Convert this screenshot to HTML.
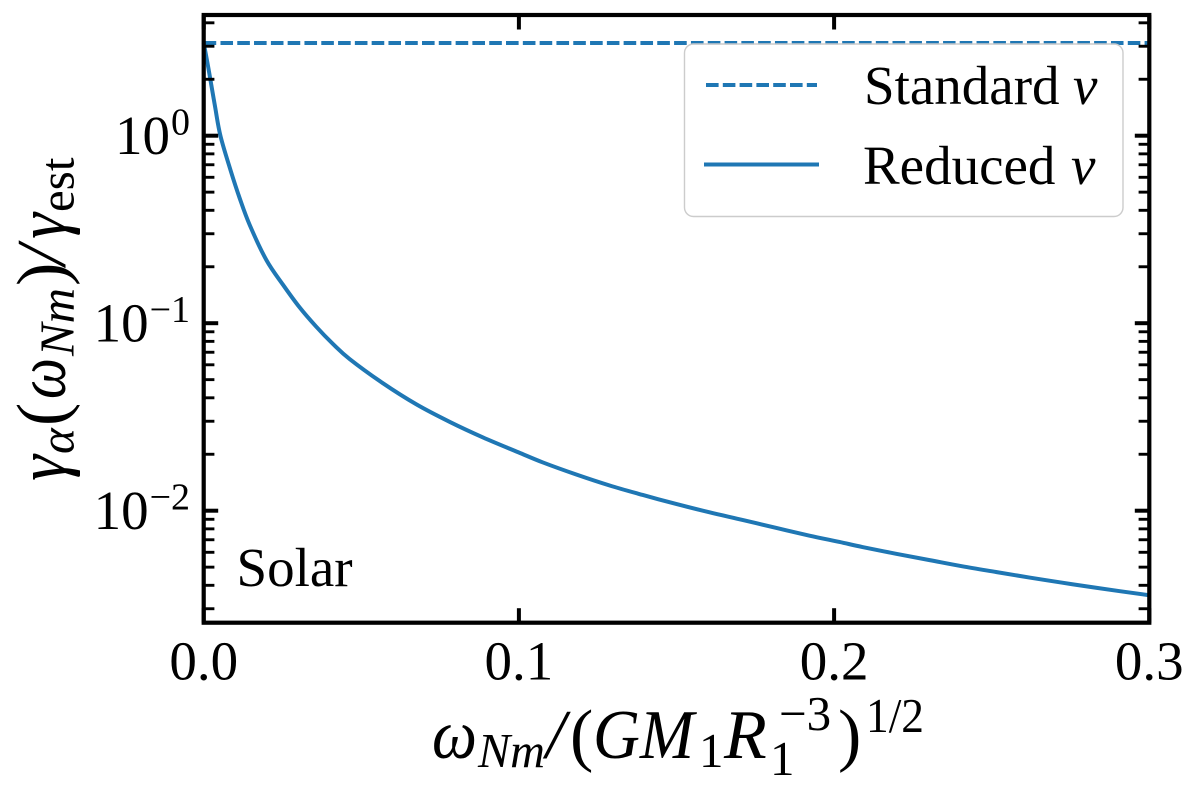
<!DOCTYPE html>
<html lang="en">
<head>
<meta charset="utf-8">
<title>Damping rate ratio chart</title>
<style>
html,body{margin:0;padding:0;background:#fff;}
svg{display:block;}
text{font-family:"Liberation Serif","DejaVu Serif",serif;fill:#000;}
.it{font-style:italic;}
</style>
</head>
<body>
<svg id="chart" xmlns="http://www.w3.org/2000/svg" width="1200" height="793" viewBox="0 0 1200 793">
  <rect width="1200" height="793" fill="#fff"/>
  <g id="series"></g>
  <g id="ticks"></g>
  <rect x="203.7" y="15" width="945.6" height="607.7" fill="none" stroke="#000" stroke-width="4.2"/>
  <g id="ticklabels"></g>

  <text x="236.5" y="586" font-size="55">Solar</text>

  <g>
    <rect x="684.5" y="44" width="438.5" height="172.5" rx="9" ry="9" fill="#fff" fill-opacity="0.8" stroke="#ccc" stroke-width="1.4"/>
    <line x1="706" x2="817" y1="85" y2="85" stroke="#1f77b4" stroke-width="4" stroke-dasharray="12.6 4.2"/>
    <text x="864" y="104" font-size="55">Standard<tspan class="it" x="1073">ν</tspan></text>
    <line x1="704" x2="819" y1="164.5" y2="164.5" stroke="#1f77b4" stroke-width="4"/>
    <text x="863" y="184" font-size="55">Reduced<tspan class="it" x="1071">ν</tspan></text>
  </g>

  <g>
    <text class="it" x="432" y="758" font-size="70" textLength="45" lengthAdjust="spacingAndGlyphs">ω</text>
    <text class="it" x="478" y="767" font-size="49" textLength="67" lengthAdjust="spacingAndGlyphs">Nm</text>
    <text class="it" x="546" y="758" font-size="70">/</text>
    <text x="570" y="758" font-size="70">(</text>
    <text class="it" x="593" y="758" font-size="70" textLength="101" lengthAdjust="spacingAndGlyphs">GM</text>
    <text x="699" y="767" font-size="49">1</text>
    <text class="it" x="724" y="758" font-size="70">R</text>
    <text x="770" y="775" font-size="49">1</text>
    <text x="779" y="730" font-size="49">−3</text>
    <text x="838" y="758" font-size="70">)</text>
    <text x="866" y="732" font-size="49" textLength="58" lengthAdjust="spacingAndGlyphs">1/2</text>
  </g>

  <g>
    <text class="it" transform="translate(65,481) rotate(-90)" font-size="70" textLength="26" lengthAdjust="spacingAndGlyphs">γ</text>
    <text class="it" transform="translate(73.5,454) rotate(-90)" font-size="49">α</text>
    <text transform="translate(65,426) rotate(-90)" font-size="70">(</text>
    <text class="it" transform="translate(65,399) rotate(-90)" font-size="70" textLength="41" lengthAdjust="spacingAndGlyphs">ω</text>
    <text class="it" transform="translate(73.5,356) rotate(-90)" font-size="49" textLength="68" lengthAdjust="spacingAndGlyphs">Nm</text>
    <text transform="translate(65,286) rotate(-90)" font-size="70">)</text>
    <text class="it" transform="translate(65,265) rotate(-90)" font-size="70">/</text>
    <text class="it" transform="translate(65,239) rotate(-90)" font-size="70" textLength="26" lengthAdjust="spacingAndGlyphs">γ</text>
    <text transform="translate(73.5,212) rotate(-90)" font-size="49">est</text>
  </g>
</svg>
<script>
const xTicks = [0.0, 0.1, 0.2, 0.3];
const xTickLabels = ["0.0", "0.1", "0.2", "0.3"];
const yDecades = [0, -1, -2];
const yTickExponents = ["0", "−1", "−2"];
const yMinorDecades = [0, -1, -2, -3];
const yMinorMultiples = [2, 3, 4, 5, 6, 7, 8, 9];
const standardX = [0.0, 0.3];
const standardY = [3.12, 3.12];
const reducedX = [0, 0.0012, 0.0021, 0.0036, 0.0053, 0.0085, 0.0114, 0.0146, 0.0199, 0.0252, 0.0304, 0.0357, 0.041, 0.0463, 0.0569, 0.0675, 0.078, 0.0886, 0.0998, 0.1076, 0.1182, 0.1288, 0.1393, 0.1499, 0.1605, 0.1711, 0.1817, 0.1922, 0.2017, 0.209, 0.2197, 0.2303, 0.2407, 0.2514, 0.262, 0.2724, 0.2831, 0.3];
const reducedY = [3.12, 2.44, 2.0, 1.43, 1.0, 0.656, 0.465, 0.334, 0.217, 0.16, 0.1216, 0.0958, 0.0775, 0.0644, 0.0478, 0.0369, 0.0298, 0.0246, 0.0205, 0.01809, 0.0156, 0.01363, 0.01213, 0.01086, 0.0098, 0.00892, 0.00809, 0.00736, 0.00681, 0.0064, 0.00589, 0.00545, 0.00505, 0.00471, 0.0044, 0.00413, 0.00388, 0.00354];

const NS = 'http://www.w3.org/2000/svg';
const plotLeft = 203.7, plotRight = 1149.3, plotTop = 15, plotBottom = 622.7;
const xMin = 0, xMax = 0.3;
const yZeroPx = 135.7, decadePx = 187.5;
function xScale(v) { return plotLeft + (v - xMin) / (xMax - xMin) * (plotRight - plotLeft); }
function yScale(v) { return yZeroPx - Math.log10(v) * decadePx; }
function make(tag, attrs, parent) {
  const el = document.createElementNS(NS, tag);
  for (const k in attrs) el.setAttribute(k, attrs[k]);
  parent.appendChild(el);
  return el;
}
const seriesLayer = document.getElementById('series');
const tickLayer = document.getElementById('ticks');
const labelLayer = document.getElementById('ticklabels');

function smoothPath(xs, ys) {
  const p = xs.map(function (x, i) { return [xScale(x), yScale(ys[i])]; });
  let d = 'M' + p[0][0].toFixed(2) + ' ' + p[0][1].toFixed(2);
  for (let i = 0; i < p.length - 1; i++) {
    const a = p[Math.max(i - 1, 0)], b = p[i], c = p[i + 1], e = p[Math.min(i + 2, p.length - 1)];
    const c1x = b[0] + (c[0] - a[0]) / 6, c1y = b[1] + (c[1] - a[1]) / 6;
    const c2x = c[0] - (e[0] - b[0]) / 6, c2y = c[1] - (e[1] - b[1]) / 6;
    d += 'C' + c1x.toFixed(2) + ' ' + c1y.toFixed(2) + ' ' + c2x.toFixed(2) + ' ' + c2y.toFixed(2) + ' ' + c[0].toFixed(2) + ' ' + c[1].toFixed(2);
  }
  return d;
}
const standardLine = make('path', {d: smoothPath(standardX, standardY), fill: 'none', stroke: '#1f77b4', 'stroke-width': 4, 'stroke-dasharray': '12.6 4.2'}, seriesLayer);


const reducedLine = make('path', {d: smoothPath(reducedX, reducedY), fill: 'none', stroke: '#1f77b4', 'stroke-width': 4, 'stroke-linejoin': 'round'}, seriesLayer);



xTicks.forEach(function (t, i) {
  const x = xScale(t);
  const bottomTick = make('line', {x1: x, x2: x, y1: plotBottom, y2: plotBottom - 14.5, stroke: '#000', 'stroke-width': 4}, tickLayer);
  
  
  const topTick = make('line', {x1: x, x2: x, y1: plotTop, y2: plotTop + 14.5, stroke: '#000', 'stroke-width': 4}, tickLayer);
  
  
  const label = make('text', {x: x, y: 679.5, 'font-size': 55, 'text-anchor': 'middle'}, labelLayer);
  
  
  label.textContent = xTickLabels[i];
});

yMinorDecades.forEach(function (d) {
  yMinorMultiples.forEach(function (m) {
    const y = yScale(m * Math.pow(10, d));
    if (y < plotTop || y > plotBottom) return;
    const leftMinor = make('line', {x1: plotLeft, x2: plotLeft + 10.7, y1: y, y2: y, stroke: '#000', 'stroke-width': 2.9}, tickLayer);
    
    
    const rightMinor = make('line', {x1: plotRight, x2: plotRight - 10.7, y1: y, y2: y, stroke: '#000', 'stroke-width': 2.9}, tickLayer);
    
    
  });
});

yDecades.forEach(function (d, i) {
  const y = yScale(Math.pow(10, d));
  const leftMajor = make('line', {x1: plotLeft, x2: plotLeft + 14.5, y1: y, y2: y, stroke: '#000', 'stroke-width': 4}, tickLayer);
  
  
  const rightMajor = make('line', {x1: plotRight, x2: plotRight - 14.5, y1: y, y2: y, stroke: '#000', 'stroke-width': 4}, tickLayer);
  
  
  const sup = make('text', {x: 190, y: y - 1, 'font-size': 38, 'text-anchor': 'end'}, labelLayer);
  
  
  sup.textContent = yTickExponents[i];
  const base = make('text', {x: 190 - sup.getComputedTextLength() - 1, y: y + 18.5, 'font-size': 55, 'text-anchor': 'end'}, labelLayer);
  
  
  base.textContent = '10';
});
</script>
</body>
</html>
